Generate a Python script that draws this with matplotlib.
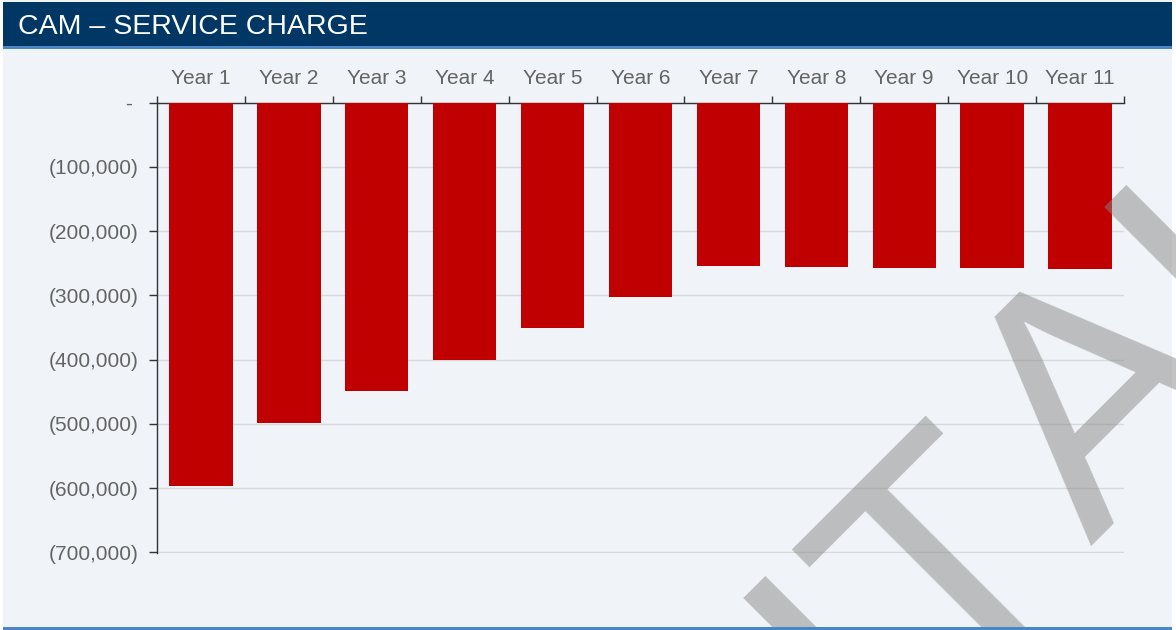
import matplotlib
matplotlib.use("Agg")
import matplotlib.pyplot as plt
from matplotlib.patches import Rectangle
from matplotlib.ticker import FuncFormatter, FixedLocator

plt.rcParams['font.family'] = ['Liberation Sans', 'DejaVu Sans']

# chart data
years = ["Year 1", "Year 2", "Year 3", "Year 4", "Year 5", "Year 6",
         "Year 7", "Year 8", "Year 9", "Year 10", "Year 11"]
service_charge = [-596000, -498000, -448000, -400000, -350500, -302000,
                  -254000, -255600, -257600, -257600, -259000]
y_ticks = [0, -100000, -200000, -300000, -400000, -500000, -600000, -700000]

W, H = 1176, 630
BG = "#F0F4F8"
NAVY = "#003764"
LINE_BLUE = "#4A86C4"
BAR_RED = "#C00000"
LABEL_GREY = "#646464"


def fx(px):
    return px / W


def fy(py):
    return 1 - py / H


def acct(v, pos=None):
    if v == 0:
        return "- "
    return f"({abs(v):,.0f})"


fig = plt.figure(figsize=(W / 100, H / 100), dpi=100, facecolor="white")

# panel, header bar and rules (kept behind the axes)
fig.patches.append(Rectangle((fx(3), 0), fx(1169), 1, transform=fig.transFigure,
                             facecolor=BG, edgecolor="none", zorder=-10))
fig.patches.append(Rectangle((fx(3), fy(46)), fx(1169), 44 / H, transform=fig.transFigure,
                             facecolor=NAVY, edgecolor="none", zorder=-9))
fig.patches.append(Rectangle((fx(3), fy(49)), fx(1169), 3 / H, transform=fig.transFigure,
                             facecolor=LINE_BLUE, edgecolor="none", zorder=-9))
fig.text(fx(18), fy(27.5), "CAM \u2013 SERVICE CHARGE", color="white", fontsize=20.5,
         ha="left", va="center")

ax = fig.add_axes([fx(157), fy(552.7), fx(1124 - 157), (552.7 - 102.7) / H])
ax.set_facecolor("none")

x = list(range(len(years)))
ax.bar(x, service_charge, width=0.72, color=BAR_RED, zorder=3)

ax.set_xlim(-0.5, len(years) - 0.5)
ax.set_ylim(-700400, 0)

# category labels on top, boundary ticks between them
ax.xaxis.tick_top()
ax.xaxis.set_major_locator(FixedLocator([i - 0.5 for i in range(len(years) + 1)]))
ax.xaxis.set_minor_locator(FixedLocator(x))
ax.set_xticklabels([], minor=False)
ax.set_xticklabels(years, minor=True)
ax.tick_params(axis="x", which="major", direction="out", length=5, width=1, color="#333333")
ax.tick_params(axis="x", which="minor", length=0, pad=10.5, labelsize=15, labelcolor=LABEL_GREY)

ax.set_yticks(y_ticks)
ax.yaxis.set_major_formatter(FuncFormatter(acct))
ax.tick_params(axis="y", direction="out", length=6, width=1, color="#333333",
               pad=7.5, labelsize=15, labelcolor=LABEL_GREY)

ax.grid(axis="y", color="#D9D9D9", linewidth=1, zorder=0)
ax.set_axisbelow(True)
for side in ("right", "bottom"):
    ax.spines[side].set_visible(False)
for side in ("left", "top"):
    ax.spines[side].set_color("#333333")
    ax.spines[side].set_linewidth(1)

# watermark across the lower right, split so the letter spacing stays open
wm = dict(rotation=45, rotation_mode="anchor", ha="left", va="baseline",
          fontsize=241, color="#878787", alpha=0.5, zorder=10)
fig.text(fx(875), fy(761), "IT", **wm)
fig.text(fx(1090), fy(546), "AL", **wm)

fig.patches.append(Rectangle((fx(3), 0), fx(1169), 3 / H, transform=fig.transFigure,
                             facecolor=LINE_BLUE, edgecolor="none", zorder=11))

fig.savefig("out.png", dpi=100, facecolor="white")
